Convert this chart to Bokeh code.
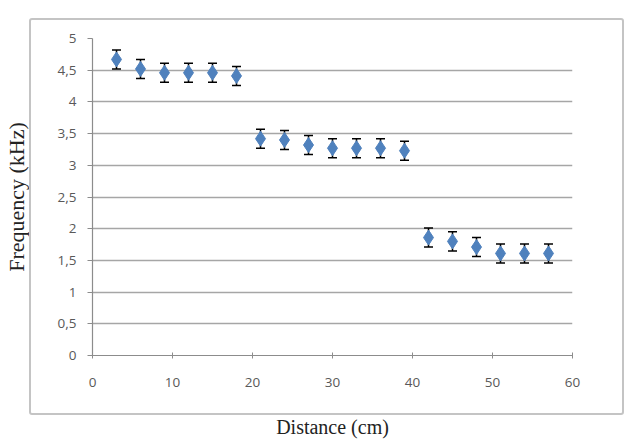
from bokeh.plotting import figure
from bokeh.models import (ColumnDataSource, Whisker, TeeHead, InlineStyleSheet,
                          FixedTicker, CustomJSTickFormatter, Range1d)
from bokeh.embed import file_html
from bokeh.resources import INLINE

distance = [3, 6, 9, 12, 15, 18, 21, 24, 27, 30, 33, 36, 39, 42, 45, 48, 51, 54, 57]
frequency = [4.67, 4.52, 4.46, 4.46, 4.46, 4.41,
             3.42, 3.40, 3.32, 3.27, 3.27, 3.27, 3.23,
             1.86, 1.80, 1.71, 1.61, 1.61, 1.61]
error = [0.15] * len(distance)
y_ticks = [0, 0.5, 1, 1.5, 2, 2.5, 3, 3.5, 4, 4.5, 5]
x_ticks = [0, 10, 20, 30, 40, 50, 60]
x_title = "Distance (cm)"
y_title = "Frequency (kHz)"

src = ColumnDataSource(dict(
    x=distance, y=frequency,
    lo=[f - e for f, e in zip(frequency, error)],
    hi=[f + e for f, e in zip(frequency, error)],
))

box_css = InlineStyleSheet(css="""
:host { position: relative; }
:host::after {
  content: '';
  position: absolute;
  left: 29px; top: 18px; width: 595px; height: 397px;
  box-sizing: border-box;
  border: 2px solid #c4c4c4;
  border-radius: 3px;
  pointer-events: none;
}
""")

p = figure(width=629, height=442, output_backend="svg", toolbar_location=None,
           x_range=Range1d(0, 60), y_range=Range1d(0, 5),
           min_border_left=89, min_border_right=57, min_border_top=38, min_border_bottom=87,
           stylesheets=[box_css])
p.outline_line_color = None
p.background_fill_color = "white"
p.border_fill_color = "white"

p.xgrid.grid_line_color = None
p.ygrid.grid_line_color = "#a6a6a6"
p.ygrid.grid_line_width = 1.5

for ax in (p.xaxis[0], p.yaxis[0]):
    ax.axis_line_color = "#8c8c8c"
    ax.axis_line_width = 1.2
    ax.major_tick_line_color = "#8c8c8c"
    ax.minor_tick_line_color = None
    ax.major_label_text_font = "Open Sans"
    ax.major_label_text_font_size = "13.5px"
    ax.major_label_text_color = "#595959"
    ax.axis_label_text_font = "Liberation Serif"
    ax.axis_label_text_font_style = "normal"
    ax.axis_label_text_color = "#222222"

p.xaxis.ticker = FixedTicker(ticks=x_ticks)
p.xaxis.major_tick_in = 3
p.xaxis.major_tick_out = 3
p.xaxis.major_label_standoff = 19
p.xaxis.axis_label = x_title
p.xaxis.axis_label_text_font_size = "20px"
p.xaxis.axis_label_standoff = 26

p.yaxis.ticker = FixedTicker(ticks=y_ticks)
p.yaxis.formatter = CustomJSTickFormatter(code="return tick.toString().replace('.', ',');")
p.yaxis.major_tick_in = 0
p.yaxis.major_tick_out = 5
p.yaxis.major_label_standoff = 11
p.yaxis.axis_label = y_title
p.yaxis.axis_label_text_font_size = "22px"
p.yaxis.axis_label_standoff = 26

w = Whisker(source=src, base="x", lower="lo", upper="hi",
            line_color="black", line_width=1.5,
            lower_head=TeeHead(size=9, line_color="black", line_width=1.5),
            upper_head=TeeHead(size=9, line_color="black", line_width=1.5))
p.add_layout(w)

p.scatter("x", "y", source=src, marker="diamond", size=15,
          fill_color="#4f81bd", line_color="#4f81bd")

open("out.html", "w").write(file_html(p, INLINE))
